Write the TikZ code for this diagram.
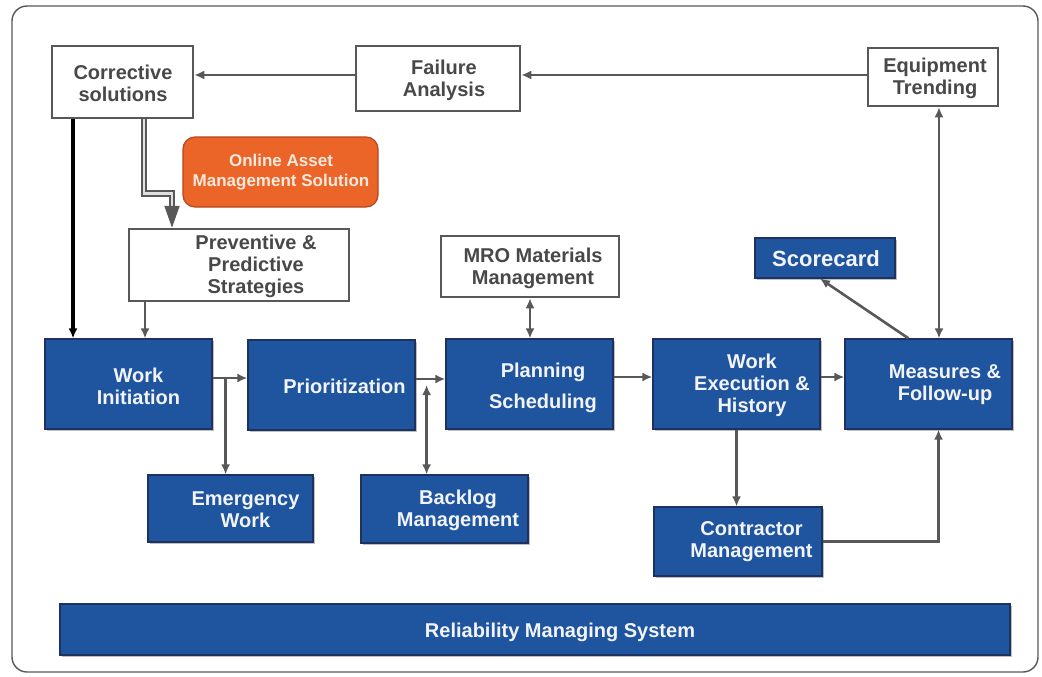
\documentclass[tikz,border=0pt]{standalone}
\usepackage{fontspec}
\setmainfont{Liberation Sans}
\usetikzlibrary{arrows.meta,calc,shadows}
\definecolor{bbox}{RGB}{31,84,158}
\definecolor{bborder}{RGB}{30,50,95}
\definecolor{lgray}{RGB}{88,88,88}
\definecolor{tgray}{RGB}{72,72,72}
\definecolor{orng}{RGB}{235,100,40}
\definecolor{orngb}{RGB}{185,70,30}
\definecolor{otext}{RGB}{255,232,220}
\definecolor{wtext}{RGB}{242,244,250}
\begin{document}
\begin{tikzpicture}[x=1pt,y=-1pt,
  bluebox/.style={draw=bborder,line width=1.2pt,fill=bbox,inner sep=0pt,
    drop shadow={shadow xshift=2pt,shadow yshift=-2pt,fill=black,opacity=0.25}},
  whitebox/.style={draw=lgray,line width=2.5pt,fill=white,inner sep=0pt},
  orangebox/.style={draw=orngb,line width=1.2pt,fill=orng,rounded corners=12pt,inner sep=0pt},
  btxt/.style={text=wtext,font=\bfseries\fontsize{20}{22}\selectfont,align=center,inner sep=0pt},
  wtxt/.style={text=tgray,font=\bfseries\fontsize{20}{22}\selectfont,align=center,inner sep=0pt},
  arr/.style={draw=lgray,line width=2.6pt,-{Latex[length=10pt,width=9pt]}},
  darr/.style={draw=lgray,line width=2.6pt,{Latex[length=10pt,width=9pt]}-{Latex[length=10pt,width=9pt]}},
]
\useasboundingbox (0,0) rectangle (1042,677);
\draw[lgray,line width=1.4pt,rounded corners=15pt,fill=white] (12,6) rectangle (1038,672);

% boxes
\node[whitebox,minimum width=141pt,minimum height=72pt] (cs) at (122.5,82) {};
\node[wtxt] (cst) at (123,83) {Corrective\\solutions};
\node[whitebox,minimum width=164pt,minimum height=65pt] (fa) at (438,78.5) {};
\node[wtxt] (fat) at (444,80) {Failure\\Analysis};
\node[whitebox,minimum width=130pt,minimum height=58pt] (et) at (933,77) {};
\node[wtxt] (ett) at (935,78) {Equipment\\Trending};
\node[orangebox,minimum width=195pt,minimum height=70pt] (oa) at (280.5,172) {};
\node[text=otext,font=\bfseries\fontsize{17}{20}\selectfont,align=center,inner sep=0pt] (oat) at (281,172) {Online Asset\\Management Solution};
\node[whitebox,minimum width=220pt,minimum height=72pt] (pp) at (239,265) {};
\node[wtxt] (ppt) at (256,266) {Preventive \&\\Predictive\\Strategies};
\node[whitebox,minimum width=178pt,minimum height=61pt] (mro) at (530,266.5) {};
\node[wtxt] (mrot) at (533,268) {MRO Materials\\Management};
\node[bluebox,minimum width=140pt,minimum height=40pt] (sc) at (825,258) {};
\node[text=wtext,font=\bfseries\fontsize{22}{24}\selectfont,inner sep=0pt] (sct) at (826,259) {Scorecard};

\node[bluebox,minimum width=167pt,minimum height=90pt] (wi) at (128.5,384) {};
\node[btxt] (wit) at (138.5,386) {Work\\Initiation};
\node[bluebox,minimum width=167pt,minimum height=90pt] (pr) at (331.5,385) {};
\node[btxt] (prt) at (344.5,386) {Prioritization};
\node[bluebox,minimum width=167pt,minimum height=90pt] (ps) at (529.5,384) {};
\node[btxt,font=\bfseries\fontsize{20}{31}\selectfont] (pst) at (543,388) {Planning\\Scheduling};
\node[bluebox,minimum width=167pt,minimum height=90pt] (we) at (736.5,384) {};
\node[btxt] (wet) at (752,385) {Work\\Execution \&\\History};
\node[bluebox,minimum width=167pt,minimum height=90pt] (mf) at (928.5,384) {};
\node[btxt] (mft) at (945,385) {Measures \&\\Follow-up};

\node[bluebox,minimum width=165pt,minimum height=67pt] (ew) at (230.5,508.5) {};
\node[btxt] (ewt) at (245.5,510) {Emergency\\Work};
\node[bluebox,minimum width=167pt,minimum height=68pt] (bm) at (444.5,509) {};
\node[btxt] (bmt) at (458,510) {Backlog\\Management};
\node[bluebox,minimum width=168pt,minimum height=69pt] (cm) at (738,541.5) {};
\node[btxt] (cmt) at (751.5,542) {Contractor\\Management};
\node[bluebox,minimum width=950pt,minimum height=51pt] (rms) at (535,629.5) {};
\node[btxt] (rmst) at (560,632) {Reliability Managing System};

% connectors
\draw[arr] ([yshift=2pt]et.west) -- ([yshift=2pt]et.west -| fa.east);
\draw[arr] ([yshift=3.5pt]fa.west) -- ([yshift=3.5pt]fa.west -| cs.east);
\draw[darr] ([xshift=6pt]et.south) -- ([xshift=6pt]et.south |- mf.north);
\draw[black,line width=3.2pt,-{Latex[length=10pt,width=9pt]}] ([xshift=-49.5pt]cs.south) -- ([xshift=-49.5pt]cs.south |- wi.north);
\draw[lgray,line width=2pt,double=gray!25,double distance=2.5pt,-{Triangle[length=22pt,width=15pt]}]
  ([xshift=21.5pt]cs.south) -- ++(0,74) -| ([xshift=-67pt]pp.north);
\draw[arr] ([xshift=-94pt]pp.south) -- ([xshift=-94pt]pp.south |- wi.north);
\draw[arr] ([yshift=6pt]wi.east) -- ([yshift=6pt]wi.east -| pr.west);
\coordinate (br1) at ($(wi.east)+(13,-6)$);
\draw[arr] (br1) -- (br1 |- ew.north);
\draw[arr] ([yshift=6pt]pr.east) -- ([yshift=6pt]pr.east -| ps.west);
\coordinate (br2) at ($(pr.east)+(11,0)$);
\draw[darr] (br2) -- (br2 |- bm.north);
\draw[darr] (mro.south) -- (mro.south |- ps.north);
\draw[arr] ([yshift=7pt]ps.east) -- ([yshift=7pt]ps.east -| we.west);
\draw[arr] ([yshift=7pt]we.east) -- ([yshift=7pt]we.east -| mf.west);
\draw[arr] (we.south) -- (we.south |- cm.north);
\draw[arr] (cm.east) -| ([xshift=10pt]mf.south);
\draw[arr] ([xshift=-20pt]mf.north) -- ([xshift=-5pt]sc.south);
\end{tikzpicture}
\end{document}
